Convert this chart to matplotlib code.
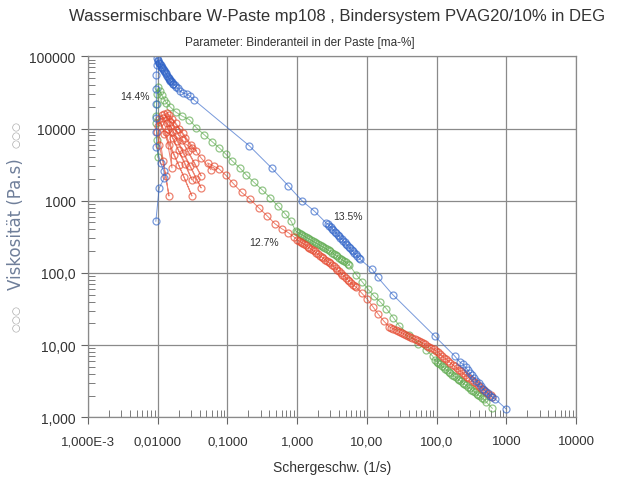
import matplotlib
matplotlib.use("Agg")
import matplotlib.pyplot as plt
from matplotlib.ticker import LogLocator, FixedLocator, FixedFormatter, NullFormatter

plt.rcParams['font.family'] = ['Liberation Sans', 'DejaVu Sans']

# --- data (shear rate 1/s, viscosity Pa.s) ---
# blue series
blue_x = [0.0094, 0.0105, 0.0125, 0.0122, 0.0110, 0.0096, 0.0096, 0.0095, 0.0096, 0.0095,
          0.0095, 0.0097, 0.0098,
          0.0100, 0.0102, 0.0104, 0.0106, 0.0108, 0.0110, 0.0112, 0.0115, 0.0117, 0.0120,
          0.0122, 0.0125, 0.0128, 0.0131, 0.0133, 0.0136, 0.0139, 0.0143, 0.0146, 0.0150,
          0.0152, 0.0156, 0.0160, 0.0165, 0.0168, 0.0175, 0.0185, 0.0195, 0.021, 0.023,
          0.026, 0.029, 0.033,
          0.206, 0.43, 0.75, 1.19, 1.77, 2.63,
          2.75, 2.88, 3.02, 3.16, 3.31, 3.47, 3.63, 3.80, 3.98, 4.17, 4.37, 4.57, 4.79, 5.01,
          5.25, 5.50, 5.75, 6.03, 6.31, 6.61, 6.92, 7.24, 7.59, 7.94,
          11.9, 14.3, 23.5, 95, 181, 216, 236,
          260, 280, 300, 320, 345, 370, 400, 430, 465, 500, 540, 580, 630, 690, 1000]
blue_y = [520, 1500, 2070, 2580, 3340, 5500, 9000, 14000, 22000, 35000,
          55000, 75000, 95000,
          88000, 85000, 82000, 80000, 78000, 75000, 72000, 70000, 68000, 66000,
          64000, 62000, 60000, 58000, 56000, 54000, 52000, 50000, 49000, 47000,
          46000, 45000, 44000, 42000, 41000, 40000, 38000, 36000, 33000, 31000,
          30000, 28000, 25000,
          5760, 2840, 1600, 985, 716, 488,
          476, 453, 432, 412, 392, 373, 356, 339, 323, 307, 293, 279, 266, 253,
          241, 229, 219, 208, 198, 189, 180, 171, 163, 155,
          112, 87, 50, 13.2, 7.1, 5.8, 5.5,
          4.9, 4.5, 4.1, 3.8, 3.5, 3.2, 2.95, 2.7, 2.5, 2.3, 2.15, 2.0, 1.9, 1.8, 1.3]

# green series
green_x = [0.0100, 0.0098, 0.0096, 0.0095, 0.0097, 0.0099, 0.0102, 0.0108, 0.0115, 0.0125,
           0.0132, 0.015, 0.018, 0.022, 0.0283, 0.036, 0.0464, 0.06, 0.0762, 0.095, 0.117,
           0.15, 0.186, 0.24, 0.316, 0.41, 0.53, 0.68, 0.82,
           0.95, 1.00, 1.06, 1.12, 1.19, 1.26, 1.33, 1.41, 1.50, 1.58, 1.68, 1.78, 1.88, 2.00,
           2.11, 2.24, 2.37, 2.51, 2.66, 2.82, 2.99, 3.16, 3.35, 3.55, 3.76, 3.98, 4.22, 4.47,
           4.73, 5.01, 5.31, 5.62,
           7.0, 8.5, 10.3, 12.6, 15.5, 19.1, 24, 29.2, 40, 55, 70, 87.7,
           95, 100, 106, 112, 119, 126, 133, 141, 150, 158, 168, 178, 188, 200, 211, 224,
           237, 251, 266, 282, 299, 316, 335, 355, 376, 398, 422, 447, 474, 520, 630]
green_y = [4000, 7000, 12000, 15000, 22000, 30000, 37000, 33000, 29000, 25000,
           22900, 20000, 17000, 15000, 13300, 10200, 8200, 6600, 5400, 4400, 3560,
           2850, 2280, 1800, 1410, 1100, 845, 650, 520,
           381, 370, 358, 347, 335, 324, 313, 303, 293, 284, 275, 266, 258, 250,
           242, 234, 227, 219, 212, 205, 198, 191, 184, 177, 170, 163, 157, 151,
           145, 140, 134, 129,
           95, 76, 60, 48, 39.7, 31.9, 24, 18.5, 14, 10.5, 8.6, 7.08,
           6.15, 5.89, 5.63, 5.39, 5.13, 4.91, 4.70, 4.49, 4.27, 4.10, 3.91, 3.74, 3.59, 3.43,
           3.29, 3.14, 3.01, 2.88, 2.76, 2.64, 2.53, 2.42, 2.32, 2.22, 2.12, 2.03, 1.95, 1.86,
           1.78, 1.62, 1.33]

# red series
red_x = [0.0098, 0.0105, 0.0118, 0.0130, 0.0145,
         0.0100, 0.0108, 0.0125, 0.0145, 0.017, 0.020, 0.024, 0.031,
         0.0105, 0.012, 0.014, 0.0165, 0.020, 0.025, 0.031,
         0.0115, 0.0135, 0.016, 0.019, 0.023, 0.029, 0.036, 0.042,
         0.0125, 0.015, 0.018, 0.022, 0.027, 0.034, 0.042,
         0.0135, 0.016, 0.020, 0.025, 0.031, 0.036,
         0.013, 0.016,
         0.0145, 0.018, 0.023, 0.030, 0.042, 0.058,
         0.052, 0.064, 0.076, 0.095, 0.12, 0.16, 0.21, 0.28, 0.37, 0.48, 0.6, 0.75, 0.9,
         1.00, 1.06, 1.12, 1.19, 1.26, 1.33, 1.41, 1.50, 1.58, 1.68, 1.78, 1.88, 2.00, 2.11,
         2.24, 2.37, 2.51, 2.66, 2.82, 2.99, 3.16, 3.35, 3.55, 3.76, 3.98, 4.22, 4.47, 4.73,
         5.01, 5.31, 5.62, 5.96, 6.31, 6.68, 7.08,
         8.5, 10.0, 12.2, 14.5, 17.5,
         21.0, 22.5, 24.1, 25.9, 27.7, 29.7, 31.9, 34.2, 36.6, 39.3, 42.1, 45.1, 48.4, 51.9,
         55.6, 59.6, 63.9, 68.5, 73.5, 78.8, 84.4, 90.5, 97.0, 104, 112, 120, 128, 138, 148,
         158, 170, 182, 195, 209, 224, 240, 258, 276, 296, 318, 340, 365, 391, 419, 450, 482,
         517, 554, 594, 630]
red_y = [9000, 6000, 3500, 2200, 1160,
         11000, 12500, 8500, 6000, 4300, 3100, 2100, 1160,
         13500, 14000, 10000, 7300, 5000, 3200, 1940,
         15500, 12000, 9000, 6700, 4600, 3000, 2000, 1500,
         16000, 12500, 9500, 7000, 4900, 3300, 2200,
         16500, 13500, 10000, 7300, 5400, 4900,
         9000, 2850,
         15600, 12000, 8600, 6000, 3900, 2680,
         3340, 3000, 2750, 2250, 1750, 1300, 1050, 800, 620, 480, 410, 360, 315,
         290, 280, 270, 260, 250, 241, 232, 223, 214, 206, 198, 190, 181, 174,
         167, 160, 153, 147, 141, 135, 129, 123, 117, 111, 105, 100, 95, 90,
         85, 81, 77, 73, 69, 66, 63,
         52, 44, 34, 27, 21.5,
         17.9, 17.3, 16.8, 16.4, 15.8, 15.2, 14.7, 14.3, 13.7, 13.3, 12.8, 12.4, 12.0, 11.8,
         11.4, 11.0, 10.6, 10.2, 9.8, 9.5, 9.1, 8.8, 8.4, 8.05, 7.47, 7.07, 6.72, 6.32, 5.97,
         5.67, 5.37, 5.08, 4.81, 4.55, 4.31, 4.08, 3.86, 3.67, 3.47, 3.28, 3.11, 2.94, 2.79,
         2.64, 2.50, 2.37, 2.24, 2.12, 2.01, 1.93]

x_ticks = [1e-3, 1e-2, 1e-1, 1, 10, 100, 1000, 10000]
x_tick_labels = ["1,000E-3", "0,01000", "0,1000", "1,000", "10,00", "100,0", "1000", "10000"]
y_ticks = [1, 10, 100, 1000, 10000, 100000]
y_tick_labels = ["1,000", "10,00", "100,0", "1000", "10000", "100000"]

labels = ["14.4%", "13.5%", "12.7%"]
label_pos = [(0.0047, 28000), (5.4, 610), (0.33, 270)]

fig = plt.figure(figsize=(6.19, 4.81), dpi=100)
ax = fig.add_axes([88 / 619, 1 - 418.3 / 481, 488 / 619, 361 / 481])

style = dict(marker='o', mfc='none', ms=5, mew=0.9, lw=0.7)
ax.plot(green_x, green_y, color='#5aa84a', alpha=0.65, **style)
ax.plot(red_x, red_y, color='#e5482e', alpha=0.68, **style)
ax.plot(blue_x, blue_y, color='#2f63c8', alpha=0.65, **style)

ax.set_xscale('log')
ax.set_yscale('log')
ax.set_xlim(1e-3, 1e4)
ax.set_ylim(1, 1e5)

ax.xaxis.set_major_locator(FixedLocator(x_ticks))
ax.xaxis.set_major_formatter(FixedFormatter(x_tick_labels))
ax.yaxis.set_major_locator(FixedLocator(y_ticks))
ax.yaxis.set_major_formatter(FixedFormatter(y_tick_labels))
ax.xaxis.set_minor_locator(LogLocator(base=10, subs=range(2, 10), numticks=20))
ax.yaxis.set_minor_locator(LogLocator(base=10, subs=range(2, 10), numticks=20))
ax.xaxis.set_minor_formatter(NullFormatter())
ax.yaxis.set_minor_formatter(NullFormatter())

ax.tick_params(which='major', direction='out', length=5, color='#666666', width=0.8,
               labelcolor='#333333')
ax.tick_params(axis='x', which='major', labelsize=9.5, pad=8)
ax.tick_params(axis='y', which='major', labelsize=10, pad=4)
ax.tick_params(which='minor', direction='in', length=5, color='#666666', width=0.6)

ax.grid(True, which='major', color='#8a8a8a', lw=0.9)
for s in ax.spines.values():
    s.set_color('#8a8a8a')
    s.set_linewidth(0.9)

for t, (lx, ly) in zip(labels, label_pos):
    ax.text(lx, ly, t, fontsize=7.5, color='#333333', ha='center', va='center')

ax.set_xlabel("Schergeschw. (1/s)", fontsize=10, color='#333333', labelpad=9)

fig.text(16 / 619, 1 - 224 / 481, "Viskosität (Pa.s)", rotation=90, fontsize=12,
         color='#6f7f9a', ha='center', va='center', family=['DejaVu Sans'])
fig.text(16 / 619, 1 - 134 / 481, "○○○", rotation=90, fontsize=7.5,
         color='#a8a8a8', ha='center', va='center', family=['DejaVu Sans'])
fig.text(16 / 619, 1 - 318 / 481, "○○○", rotation=90, fontsize=7.5,
         color='#a8a8a8', ha='center', va='center', family=['DejaVu Sans'])

fig.text(337 / 619, 1 - 17 / 481, "Wassermischbare W-Paste mp108 , Bindersystem PVAG20/10% in DEG",
         fontsize=12, color='#333333', ha='center', va='center')
fig.text(300 / 619, 1 - 43 / 481, "Parameter: Binderanteil in der Paste [ma-%]",
         fontsize=8.5, color='#333333', ha='center', va='center')

fig.savefig("out.png", dpi=100, facecolor='white')
